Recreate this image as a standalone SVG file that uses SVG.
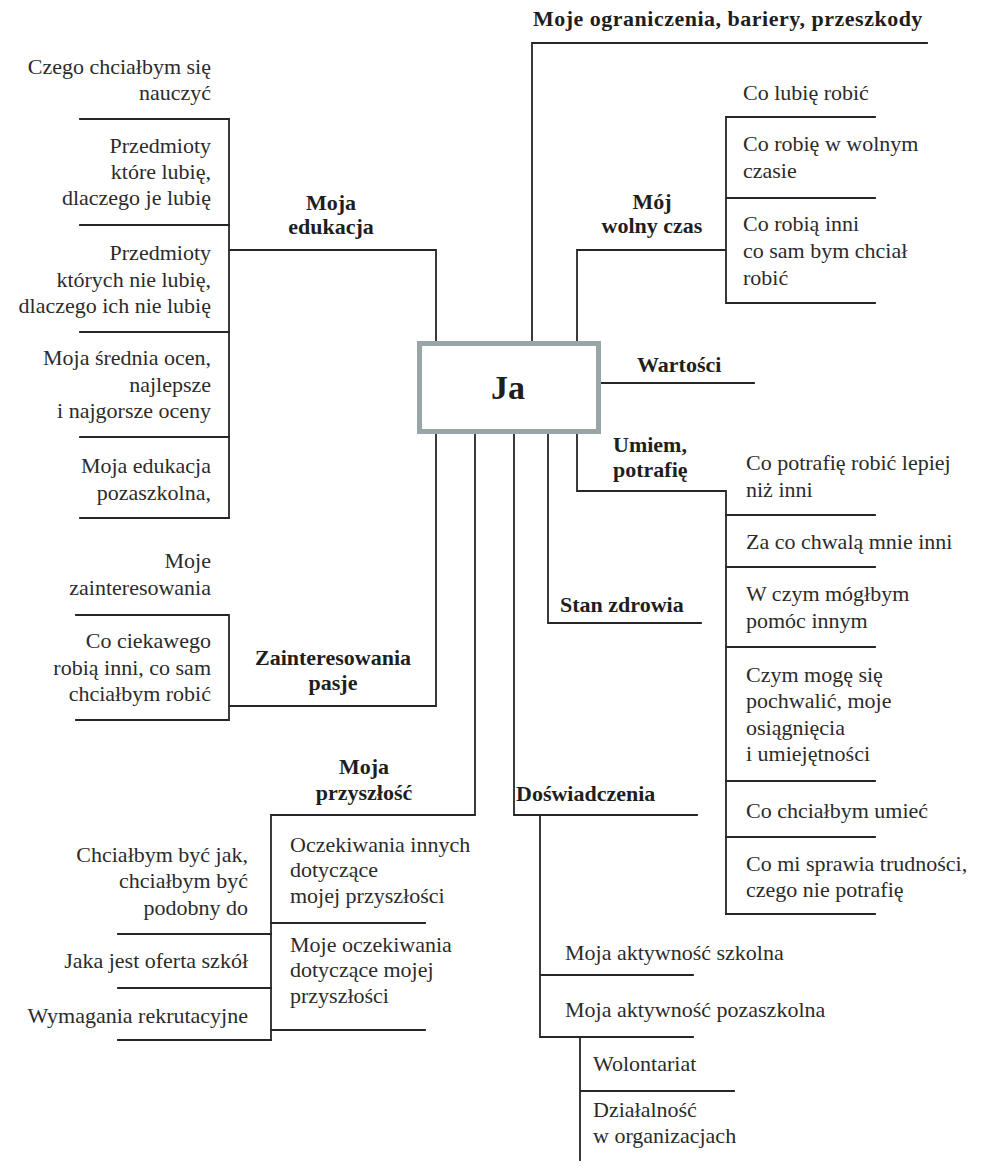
<svg xmlns="http://www.w3.org/2000/svg" width="984" height="1168" viewBox="0 0 984 1168">
<style>
.t{font-family:"Liberation Serif","Times New Roman",serif;font-size:22px;fill:#2b2b2b}
.b{font-family:"Liberation Serif","Times New Roman",serif;font-size:22px;font-weight:bold;fill:#1e1e1e}
.r{text-anchor:end}
.c{text-anchor:middle}
.ln{stroke:#262626;stroke-width:1.8;fill:none;stroke-linecap:square}
</style>
<rect width="984" height="1168" fill="#ffffff"/>
<g id="connectors" class="ln">
<path d="M436 343V250H229M229 119V518"/>
<path d="M80 119H229M80 225H229M80 332H229M80 437H229M80 518H229"/>
<path d="M436 434V706H229M229 615V720M76 615H229M76 720H229"/>
<path d="M532 343V43H927"/>
<path d="M577 343V250H726M726 117V303M726 117H875M726 198H875M726 303H875"/>
<path d="M601 383H754"/>
<path d="M577 434V491H726M726 491V914"/>
<path d="M726 515H875M726 567H875M726 647H875M726 781H875M726 837H875M726 914H875"/>
<path d="M548 434V623H701"/>
<path d="M475 434V815H271M271 815V1040"/>
<path d="M118 934H271M118 988H271M118 1040H271M271 923H425M271 1030H425"/>
<path d="M514 434V815H697M540 815V1037M540 975H693M540 1037H693"/>
<path d="M580 1037V1160M580 1091H734"/>
</g>
<g id="ja">
<rect x="419.5" y="343.5" width="179" height="88" fill="#ffffff" stroke="#98a5a9" stroke-width="5"/>
<text x="508" y="399" class="b c" style="font-size:34px">Ja</text>
</g>
<g id="edukacja">
<text class="b c"><tspan x="331" y="210">Moja</tspan><tspan x="331" y="234">edukacja</tspan></text>
</g>
<g id="edu-1"><text class="t r"><tspan x="211" y="74">Czego chciałbym się</tspan><tspan x="211" y="100">nauczyć</tspan></text></g>
<g id="edu-2"><text class="t r"><tspan x="211" y="153">Przedmioty</tspan><tspan x="211" y="179">które lubię,</tspan><tspan x="211" y="205">dlaczego je lubię</tspan></text></g>
<g id="edu-3"><text class="t r"><tspan x="211" y="260">Przedmioty</tspan><tspan x="211" y="287">których nie lubię,</tspan><tspan x="211" y="313">dlaczego ich nie lubię</tspan></text></g>
<g id="edu-4"><text class="t r"><tspan x="211" y="365">Moja średnia ocen,</tspan><tspan x="211" y="392">najlepsze</tspan><tspan x="211" y="418">i najgorsze oceny</tspan></text></g>
<g id="edu-5"><text class="t r"><tspan x="211" y="473">Moja edukacja</tspan><tspan x="211" y="500">pozaszkolna,</tspan></text></g>
<g id="zainteresowania">
<text class="b c"><tspan x="333" y="665">Zainteresowania</tspan><tspan x="333" y="690">pasje</tspan></text>
</g>
<g id="zaint-1"><text class="t r"><tspan x="211" y="568">Moje</tspan><tspan x="211" y="595">zainteresowania</tspan></text></g>
<g id="zaint-2"><text class="t r"><tspan x="211" y="648">Co ciekawego</tspan><tspan x="211" y="675">robią inni, co sam</tspan><tspan x="211" y="701">chciałbym robić</tspan></text></g>
<g id="ograniczenia"><text x="533" y="26" class="b" letter-spacing="0.5">Moje ograniczenia, bariery, przeszkody</text></g>
<g id="wolny-czas">
<text class="b c"><tspan x="652" y="209">Mój</tspan><tspan x="652" y="233">wolny czas</tspan></text>
</g>
<g id="wolny-1"><text class="t"><tspan x="743" y="100">Co lubię robić</tspan></text></g>
<g id="wolny-2"><text class="t"><tspan x="743" y="151">Co robię w wolnym</tspan><tspan x="743" y="178">czasie</tspan></text></g>
<g id="wolny-3"><text class="t"><tspan x="743" y="231">Co robią inni</tspan><tspan x="743" y="258">co sam bym chciał</tspan><tspan x="743" y="285">robić</tspan></text></g>
<g id="wartosci"><text x="637" y="372" class="b">Wartości</text></g>
<g id="umiem">
<text class="b"><tspan x="613" y="452">Umiem,</tspan><tspan x="613" y="477">potrafię</tspan></text>
</g>
<g id="umiem-1"><text class="t"><tspan x="746" y="470">Co potrafię robić lepiej</tspan><tspan x="746" y="497">niż inni</tspan></text></g>
<g id="umiem-2"><text class="t"><tspan x="746" y="549">Za co chwalą mnie inni</tspan></text></g>
<g id="umiem-3"><text class="t"><tspan x="746" y="601">W czym mógłbym</tspan><tspan x="746" y="628">pomóc innym</tspan></text></g>
<g id="umiem-4"><text class="t"><tspan x="746" y="682">Czym mogę się</tspan><tspan x="746" y="708">pochwalić, moje</tspan><tspan x="746" y="735">osiągnięcia</tspan><tspan x="746" y="761">i umiejętności</tspan></text></g>
<g id="umiem-5"><text class="t"><tspan x="746" y="818">Co chciałbym umieć</tspan></text></g>
<g id="umiem-6"><text class="t"><tspan x="746" y="871">Co mi sprawia trudności,</tspan><tspan x="746" y="897">czego nie potrafię</tspan></text></g>
<g id="zdrowie"><text x="560" y="612" class="b">Stan zdrowia</text></g>
<g id="przyszlosc">
<text class="b c"><tspan x="364" y="774">Moja</tspan><tspan x="364" y="800">przyszłość</tspan></text>
</g>
<g id="przysz-l1"><text class="t r"><tspan x="248" y="862">Chciałbym być jak,</tspan><tspan x="248" y="888">chciałbym być</tspan><tspan x="248" y="915">podobny do</tspan></text></g>
<g id="przysz-l2"><text class="t r"><tspan x="248" y="968">Jaka jest oferta szkół</tspan></text></g>
<g id="przysz-l3"><text class="t r"><tspan x="248" y="1023">Wymagania rekrutacyjne</tspan></text></g>
<g id="przysz-r1"><text class="t"><tspan x="290" y="852">Oczekiwania innych</tspan><tspan x="290" y="877">dotyczące</tspan><tspan x="290" y="903">mojej przyszłości</tspan></text></g>
<g id="przysz-r2"><text class="t"><tspan x="290" y="952">Moje oczekiwania</tspan><tspan x="290" y="977">dotyczące mojej</tspan><tspan x="290" y="1003">przyszłości</tspan></text></g>
<g id="doswiadczenia"><text x="516" y="801" class="b">Doświadczenia</text></g>
<g id="dosw-1"><text class="t"><tspan x="565" y="960">Moja aktywność szkolna</tspan></text></g>
<g id="dosw-2"><text class="t"><tspan x="565" y="1017">Moja aktywność pozaszkolna</tspan></text></g>
<g id="dosw-3"><text class="t"><tspan x="593" y="1071">Wolontariat</tspan></text></g>
<g id="dosw-4"><text class="t"><tspan x="593" y="1117">Działalność</tspan><tspan x="593" y="1143">w organizacjach</tspan></text></g>
</svg>
